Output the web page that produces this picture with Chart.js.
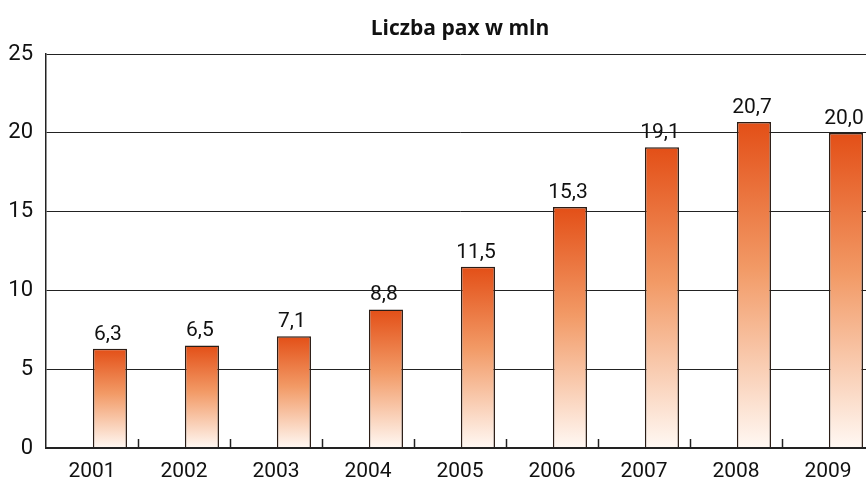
<!DOCTYPE html>
<html>
<head>
<meta charset="utf-8">
<script src="https://cdn.jsdelivr.net/npm/chart.js@4.4.0/dist/chart.umd.min.js"></script>
<style>
  html, body { margin: 0; padding: 0; background: #fff; overflow: hidden; }
  #wrap { width: 878px; height: 479px; }
</style>
</head>
<body>
<div id="wrap"><canvas id="paxChart" width="878" height="479"></canvas></div>
<script>
// ==============================
// DATA
// ==============================
const years = ['2001', '2002', '2003', '2004', '2005', '2006', '2007', '2008', '2009'];
const paxMln = [6.3, 6.5, 7.1, 8.8, 11.5, 15.3, 19.1, 20.7, 20.0];
const yTicks = [0, 5, 10, 15, 20, 25];

const FONT = "Roboto, 'DejaVu Sans Condensed', sans-serif";

// per-bar gradient: dark orange at the top of each bar, near-white at its base
function barGradient(ctx) {
  const chart = ctx.chart;
  const y = chart.scales.y;
  if (!chart.chartArea || !y || ctx.raw == null) return '#e8531a';
  const top = y.getPixelForValue(ctx.raw);
  const base = y.getPixelForValue(0);
  const g = chart.ctx.createLinearGradient(0, top, 0, base);
  g.addColorStop(0, '#e34f17');
  g.addColorStop(0.45, '#f29a66');
  g.addColorStop(1, '#fff8f3');
  return g;
}

// ==============================
// PLUGINS
// ==============================
const valueLabels = {
  id: 'valueLabels',
  afterDatasetsDraw(chart) {
    const meta = chart.getDatasetMeta(1);
    const c = chart.ctx;
    c.save();
    c.font = '21px ' + FONT;
    c.fillStyle = '#111';
    c.textAlign = 'center';
    c.textBaseline = 'bottom';
    meta.data.forEach((bar, i) => {
      const txt = paxMln[i].toFixed(1).replace('.', ',');
      c.fillText(txt, bar.x - 2, bar.y - 4);
    });
    c.restore();
  }
};

// short upward tick marks at category boundaries
const innerTicks = {
  id: 'innerTicks',
  afterDraw(chart) {
    const x = chart.scales.x;
    const base = chart.chartArea.bottom;
    const half = (x.getPixelForValue(1) - x.getPixelForValue(0)) / 2;
    const c = chart.ctx;
    c.save();
    c.strokeStyle = '#222';
    c.lineWidth = 1.5;
    years.forEach((_, i) => {
      const px = Math.round(x.getPixelForValue(i) + half) + 0.5;
      c.beginPath();
      c.moveTo(px, base - 9);
      c.lineTo(px, base);
      c.stroke();
    });
    // base line
    c.lineWidth = 2;
    c.beginPath();
    c.moveTo(chart.chartArea.left, base);
    c.lineTo(chart.chartArea.right, base);
    c.stroke();
    c.restore();
  }
};

// ==============================
// CHART
// ==============================
new Chart(document.getElementById('paxChart'), {
  type: 'bar',
  data: {
    labels: years,
    datasets: [
      { data: years.map(() => null), backgroundColor: 'rgba(0,0,0,0)' },
      {
        label: 'Liczba pax w mln',
        data: paxMln,
        backgroundColor: barGradient,
        borderColor: '#2b1d16',
        borderWidth: 1.5,
        borderSkipped: 'bottom'
      }
    ]
  },
  options: {
    responsive: false,
    animation: false,
    datasets: { bar: { categoryPercentage: 0.78, barPercentage: 0.95 } },
    layout: { padding: { left: 0, right: 4, top: 0, bottom: 0 } },
    plugins: {
      legend: { display: false },
      tooltip: { enabled: false },
      title: {
        display: true,
        fullSize: false,
        text: 'Liczba pax w mln',
        color: '#111',
        font: { family: "'Open Sans', sans-serif", size: 21, weight: 'bold' },
        padding: { top: 16, bottom: 13 }
      }
    },
    scales: {
      x: {
        grid: { display: false },
        border: { display: false },
        ticks: { color: '#111', font: { family: FONT, size: 21 }, padding: 3 },
        afterFit(scale) { scale.height = 31; }
      },
      y: {
        min: 0,
        max: 25,
        afterBuildTicks(scale) { scale.ticks = yTicks.map(v => ({ value: v })); },
        grid: { color: '#222', lineWidth: 1, drawTicks: false },
        border: { color: '#222', width: 1.5 },
        ticks: { color: '#111', font: { family: FONT, size: 22 }, padding: 13 },
        afterFit(scale) { scale.width = 46; }
      }
    }
  },
  plugins: [valueLabels, innerTicks]
});
</script>
</body>
</html>
